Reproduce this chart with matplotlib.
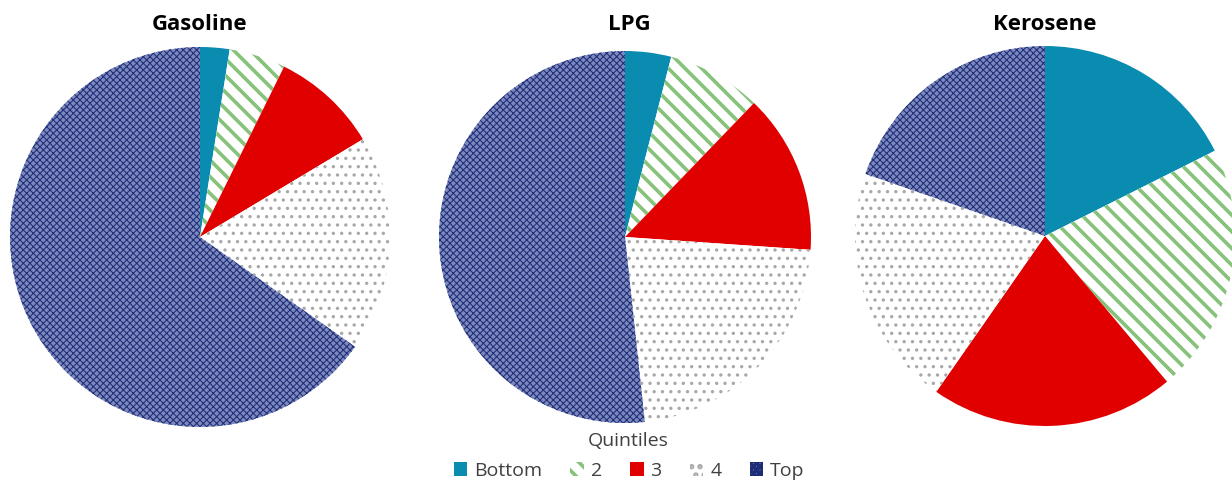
import matplotlib
matplotlib.use('Agg')
from matplotlib import pyplot as plt
from matplotlib.patches import Patch

fuels = ['Gasoline', 'LPG', 'Kerosene']
quintiles = ['Bottom', '2', '3', '4', 'Top']

# shares (%) by quintile
gasoline = [2.5, 4.8, 9.1, 18.4, 65.2]
lpg = [4.0, 8.2, 13.9, 22.2, 51.7]
kerosene = [17.6, 21.3, 20.8, 20.6, 19.7]

faces = ['#0a8bb0', 'white', '#e00000', 'white', '#7c89bd']
edges = ['#0a8bb0', '#86c27a', '#e00000', '#a8a8a8', '#1f2c78']
hatches = [None, '\\\\', None, '..', 'xxxxx']
hatch_lw = [None, 2.6, None, 1.2, 0.75]

plt.rcParams['font.family'] = ['Open Sans', 'DejaVu Sans']
plt.rcParams['hatch.linewidth'] = 2.6

fig = plt.figure(figsize=(12.32, 4.83), dpi=100)
W, H = 1232, 483

# (center x, center y, radius) in pixels
spots = [(200, 237, 190), (625, 237, 186), (1045, 236, 190)]
title_x = [200, 629, 1045]
data = [gasoline, lpg, kerosene]

for name, vals, (cx, cy, r), tx in zip(fuels, data, spots, title_x):
    ax = fig.add_axes([(cx - r) / W, (H - cy - r) / H, 2 * r / W, 2 * r / H])
    wedges, _ = ax.pie(vals, startangle=90, counterclock=False, radius=1,
                       wedgeprops=dict(linewidth=0))
    for w, fc, ec, h, hl in zip(wedges, faces, edges, hatches, hatch_lw):
        w.set_facecolor(fc)
        w.set_edgecolor(ec)
        w.set_linewidth(0)
        if h:
            w.set_hatch(h)
            try:
                w.set_hatch_linewidth(hl)
            except AttributeError:
                pass
    ax.set_xlim(-1, 1)
    ax.set_ylim(-1, 1)
    ax.set_aspect('equal')
    ax.axis('off')
    fig.text(tx / W, 1 - 25 / H, name, ha='center', va='center',
             fontsize=16, fontweight='bold')

fig.text(628 / W, 1 - 441 / H, 'Quintiles', ha='center', va='center',
         fontsize=14, color='#404040')

handles = [Patch(facecolor=fc, edgecolor=ec, hatch=h, linewidth=0)
           for fc, ec, h in zip(faces, edges, hatches)]
leg = fig.legend(handles, quintiles, loc='center', ncol=5, frameon=False,
                 bbox_to_anchor=(629 / W, 1 - 471 / H),
                 fontsize=14, handlelength=0.7, handleheight=0.7,
                 handletextpad=0.35, columnspacing=1.45, borderpad=0.1)
for t in leg.get_texts():
    t.set_color('#404040')

fig.savefig('out.png', dpi=100)
